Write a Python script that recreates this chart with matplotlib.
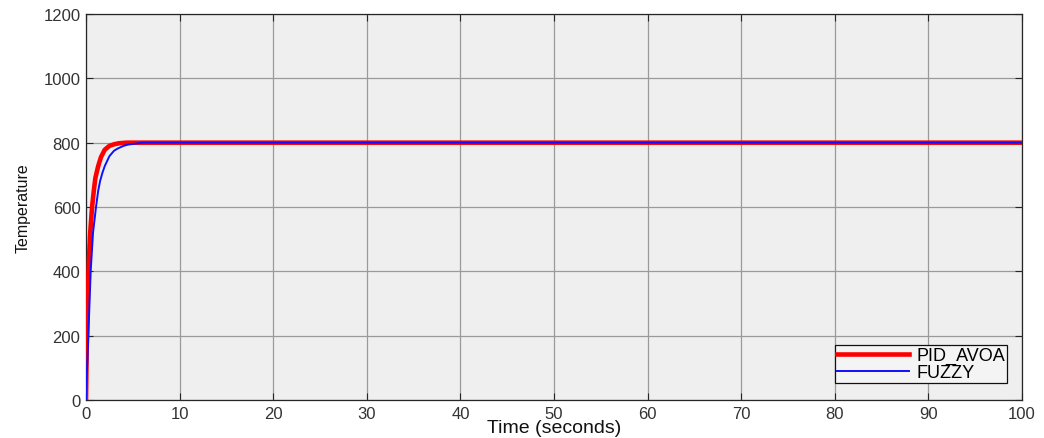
import matplotlib
matplotlib.use("Agg")
import matplotlib.pyplot as plt

plt.rcParams['font.family'] = ['Liberation Sans', 'DejaVu Sans']

# Data
time_pid = [0, 0.05, 0.1, 0.2, 0.3, 0.45, 0.65, 0.85, 1.0, 1.3, 1.6, 2.0, 2.5, 3.0, 3.5, 4.3, 5.0, 100]
temp_pid = [0, 110, 200, 330, 430, 520, 600, 655, 690, 727, 755, 778, 790, 795, 798, 800, 800, 800]

time_fuzzy = [0, 0.1, 0.25, 0.4, 0.5, 0.75, 1.07, 1.3, 1.5, 1.75, 2.0, 2.5, 3.0, 3.4, 4.0, 4.5, 5.0, 6.0, 100]
temp_fuzzy = [0, 90, 200, 320, 400, 520, 600, 650, 680, 706, 727, 758, 775, 782, 790, 794, 796, 800, 800]

x_ticks = [0, 10, 20, 30, 40, 50, 60, 70, 80, 90, 100]
y_ticks = [0, 200, 400, 600, 800, 1000, 1200]

fig = plt.figure(figsize=(10.44, 4.39), dpi=100)
ax = fig.add_axes([86/1044, 38/439, 936/1044, 386/439])
ax.set_facecolor('#efefef')

ax.plot(time_pid, temp_pid, color='#ff0000', lw=3.3, label='PID_AVOA', zorder=2.8,
        solid_joinstyle='round')
ax.plot(time_fuzzy, temp_fuzzy, color='#1010ff', lw=1.4, label='FUZZY', zorder=3,
        solid_joinstyle='round')

ax.set_xlim(0, 100)
ax.set_ylim(0, 1200)
ax.set_xticks(x_ticks)
ax.set_yticks(y_ticks)
ax.grid(True, color='#9a9a9a', lw=0.9, zorder=0)
ax.set_axisbelow(True)
ax.tick_params(direction='in', length=5, width=0.8, colors='#262626', labelsize=12,
               top=True, right=True, pad=4)
for lab in ax.get_xticklabels() + ax.get_yticklabels():
    lab.set_color('#333333')
for s in ax.spines.values():
    s.set_color('#262626')
    s.set_linewidth(0.9)

ax.set_xlabel('Time (seconds)', fontsize=14, color='#111111', labelpad=-1)
ax.set_ylabel('Temperature', fontsize=11.5, color='#111111', labelpad=9)

leg = ax.legend(loc='lower right', bbox_to_anchor=(0.984, 0.044), fontsize=13,
                fancybox=False, framealpha=1, edgecolor='#111111', facecolor='#f4f4f4',
                handlelength=4.0, borderpad=0.1, labelspacing=0.0, handletextpad=0.4,
                borderaxespad=0)
leg.get_frame().set_linewidth(0.9)

fig.savefig('out.png', dpi=100)
